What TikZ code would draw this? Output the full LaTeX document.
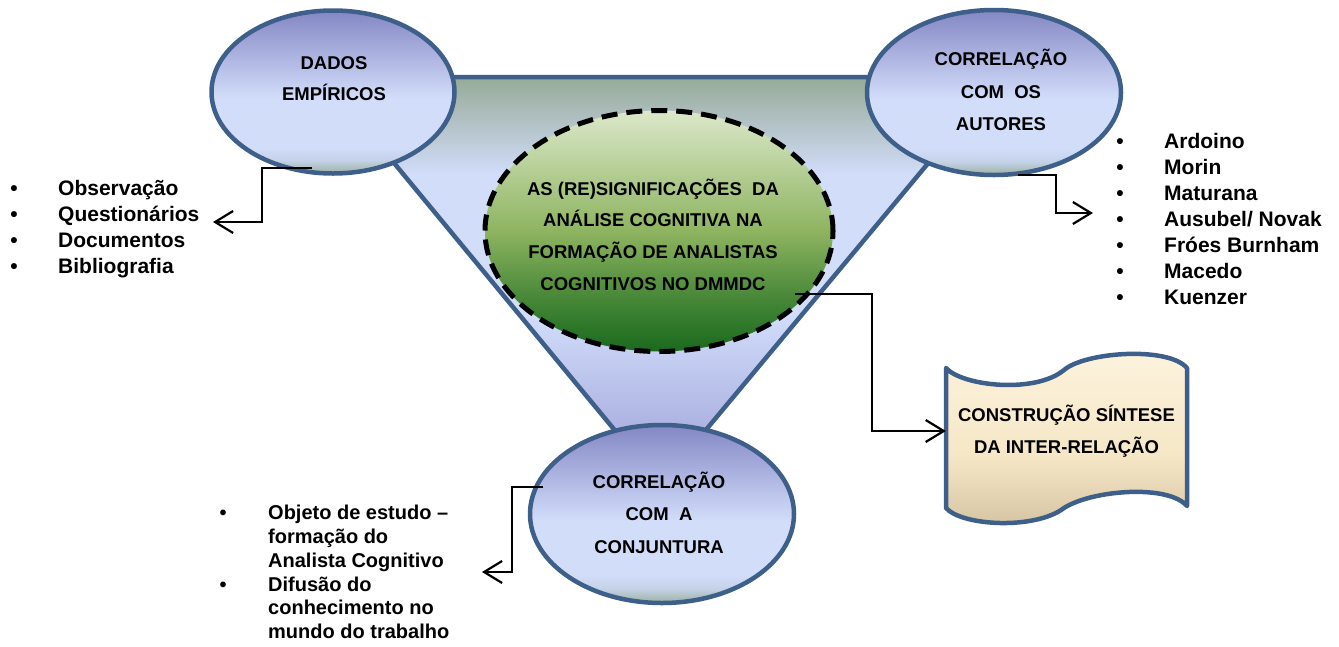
\documentclass[tikz,border=0pt]{standalone}
\usepackage{fontspec}
\setmainfont{Liberation Sans}
\usetikzlibrary{arrows.meta,shapes.geometric,calc}

\definecolor{bord}{RGB}{63,95,139}
\definecolor{elTop}{RGB}{132,135,196}
\definecolor{elMid}{RGB}{210,221,250}
\definecolor{elLow}{RGB}{196,210,232}
\definecolor{elBot}{RGB}{155,176,158}
\definecolor{trTop}{RGB}{150,170,152}
\definecolor{trMid}{RGB}{210,221,250}
\definecolor{trLow}{RGB}{175,182,228}
\definecolor{trBot}{RGB}{160,166,218}
\definecolor{gTop}{RGB}{220,232,202}
\definecolor{gMid}{RGB}{142,180,96}
\definecolor{gLow}{RGB}{70,135,55}
\definecolor{gBot}{RGB}{26,106,30}
\definecolor{bxTop}{RGB}{253,243,222}
\definecolor{bxMid}{RGB}{245,231,198}
\definecolor{bxBot}{RGB}{212,194,160}

\pgfdeclareverticalshading{ellsh}{100bp}{color(0bp)=(elBot); color(25bp)=(elBot); color(29bp)=(elLow); color(33bp)=(elMid); color(48bp)=(elMid); color(75bp)=(elTop); color(100bp)=(elTop)}
\pgfdeclareverticalshading{trish}{100bp}{color(0bp)=(trBot); color(25bp)=(trBot); color(33bp)=(trLow); color(46bp)=(trMid); color(63bp)=(trMid); color(75bp)=(trTop); color(100bp)=(trTop)}
\pgfdeclareverticalshading{grsh}{100bp}{color(0bp)=(gBot); color(25bp)=(gBot); color(36bp)=(gLow); color(50bp)=(gMid); color(75bp)=(gTop); color(100bp)=(gTop)}
\pgfdeclareverticalshading{boxsh}{100bp}{color(0bp)=(bxBot); color(25bp)=(bxBot); color(45bp)=(bxMid); color(75bp)=(bxTop); color(100bp)=(bxTop)}

\begin{document}
\begin{tikzpicture}[x=1pt,y=-1pt,
  ell/.style={ellipse, draw=bord, line width=4.5pt, shade, shading=ellsh, inner sep=0pt},
  conn/.style={draw=black, line width=2.2pt, -{Straight Barb[length=18pt,width=22pt]}},
  etxt/.style={font=\fontsize{18.5}{31.5}\selectfont\bfseries, align=center, inner sep=0pt},
  lst/.style={font=\fontsize{21}{26}\selectfont\bfseries, anchor=mid west, inner sep=0pt},
  bul/.style={font=\fontsize{21}{26}\selectfont\bfseries, anchor=mid, inner sep=0pt},
  lstb/.style={font=\fontsize{20}{24}\selectfont\bfseries, anchor=mid west, inner sep=0pt},
  bulb/.style={font=\fontsize{20}{24}\selectfont\bfseries, anchor=mid, inner sep=0pt}]
\useasboundingbox (0,0) rectangle (1339,646);

% funnel triangle
\path[draw=bord, line width=4.5pt, shade, shading=trish] (323,77) -- (1000,77) -- (660,485) -- cycle;

% ellipses
\node[ell, minimum width=243pt, minimum height=163pt] (e1) at (333,92) {};
\node[ell, minimum width=254pt, minimum height=165pt] (e2) at (994,92.5) {};
\node[ell, minimum width=264pt, minimum height=178pt] (e3) at (662,514) {};
\node[ellipse, draw=black, line width=5pt, dash pattern=on 16pt off 9pt, shade, shading=grsh, inner sep=0pt,
      minimum width=348pt, minimum height=241pt] (c) at (659,231) {};

% tape box
\path[draw=bord, line width=4.5pt, shade, shading=boxsh, line join=round]
  (946,368) .. controls (962,386) and (1035,394) .. (1064,370)
  .. controls (1085,352) and (1168,346) .. (1187,368) -- (1187,506)
  .. controls (1168,484) and (1092,490) .. (1064,508)
  .. controls (1035,530) and (962,526) .. (946,508) -- cycle;
\node[etxt, font=\fontsize{18.5}{32}\selectfont\bfseries, minimum width=241pt, minimum height=120pt] (box) at (1066.5,431)
  {CONSTRUÇÃO SÍNTESE\\DA INTER-RELAÇÃO};

% texts in ellipses
\node[etxt, font=\fontsize{18.5}{31}\selectfont\bfseries] (t1) at (334,79) {DADOS\\EMPÍRICOS};
\node[etxt, font=\fontsize{18.5}{32.5}\selectfont\bfseries] (t2) at (1001,90) {CORRELAÇÃO\\COM\ \ OS\\AUTORES};
\node[etxt, font=\fontsize{18.5}{32.5}\selectfont\bfseries] (t3) at (659,512.5) {CORRELAÇÃO\\COM\ \ A\\CONJUNTURA};
\node[etxt, font=\fontsize{18.5}{31.7}\selectfont\bfseries] (tc) at (653,234.5)
  {AS (RE)SIGNIFICAÇÕES\ \ DA\\ANÁLISE COGNITIVA NA\\FORMAÇÃO DE ANALISTAS\\COGNITIVOS NO DMMDC};

% free ends of connectors
\coordinate (tipL) at (213,222);
\coordinate (tipR) at (1093,213);
\coordinate (tipB) at (482,572);

% connectors
\draw[conn] ($(e1.center)+(-21,76)$) -| ($(tipL)+(49,0)$) -- (tipL);
\draw[conn] ($(e2.center)+(24,82.5)$) -| ($(tipR)+(-37,0)$) -- (tipR);
\draw[conn] ($(c.center)+(136,63)$) -| ($(box.west)+(-74,0)$) -- (box.west);
\draw[conn] ($(e3.center)+(-119,-27)$) -| ($(tipB)+(30,0)$) -- (tipB);

% left list
\foreach \t [count=\i] in {Observação,Questionários,Documentos,Bibliografia}{
  \node[bul] (lb\i) at (14,167+26*\i) {\textbullet};
  \node[lst] (lt\i) at (58,167+26*\i) {\t};
}
% right list
\foreach \t [count=\i] in {Ardoino,Morin,Maturana,Ausubel/ Novak,Fróes Burnham,Macedo,Kuenzer}{
  \node[bul] (rb\i) at (1120,120+26*\i) {\textbullet};
  \node[lst] (rt\i) at (1164,120+26*\i) {\t};
}
% bottom list
\foreach \t [count=\i] in {Objeto de estudo –,formação do,Analista Cognitivo,Difusão do,conhecimento no,mundo do trabalho}{
  \node[lstb] (bt\i) at (268,493.2+23.8*\i) {\t};
}
\node[bulb] (bb1) at (223,517) {\textbullet};
\node[bulb] (bb2) at (223,588.4) {\textbullet};
\end{tikzpicture}
\end{document}
